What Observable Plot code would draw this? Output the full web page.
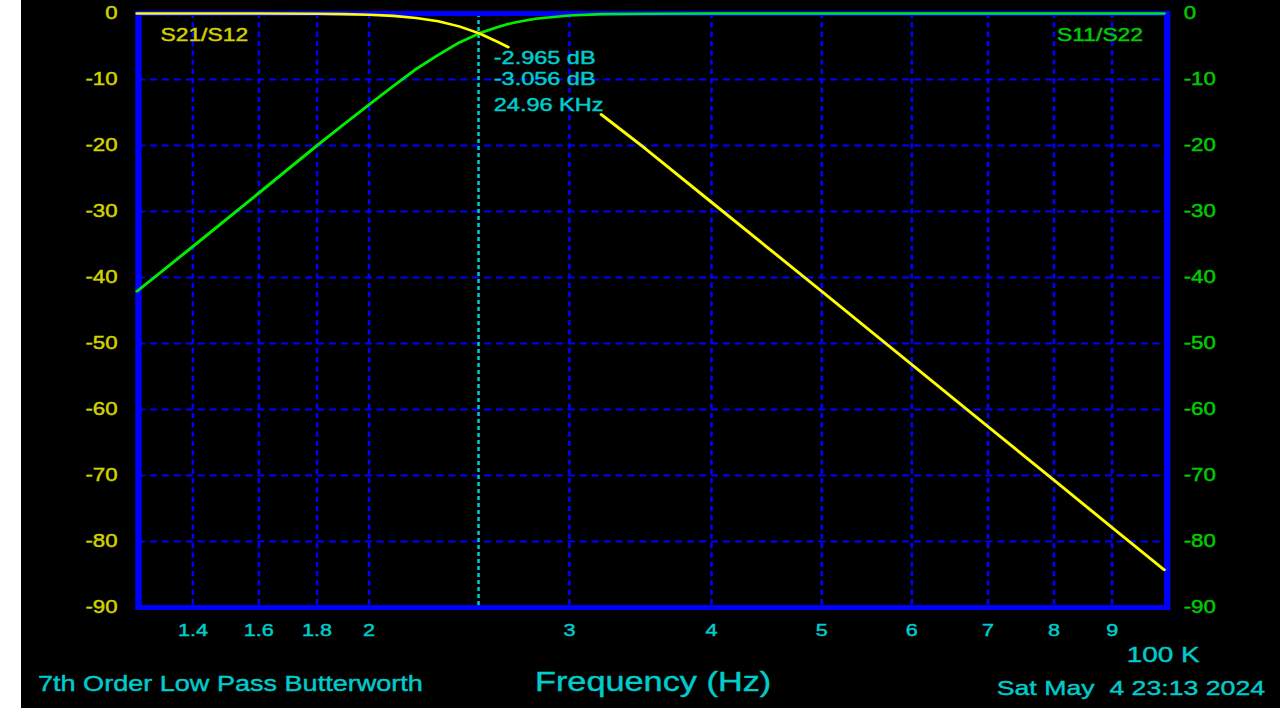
<!DOCTYPE html>
<html><head><meta charset="utf-8">
<script src="https://cdn.jsdelivr.net/npm/d3@7"></script>
<script src="https://cdn.jsdelivr.net/npm/@observablehq/plot@0.6"></script>
<style>
html,body{margin:0;padding:0;background:#fff;width:1280px;height:720px;overflow:hidden;}
#back{position:absolute;left:21px;top:0;width:1259px;height:708px;background:#000;}
#stage{position:absolute;left:21px;top:0;width:991.34px;height:708px;background:#000;transform:scaleX(1.27);transform-origin:0 0;font-family:"Liberation Sans",Arial,sans-serif;}
#stage svg{position:absolute;left:0;top:0;}
.cap{position:absolute;color:#00cccc;white-space:pre;line-height:1;-webkit-text-stroke:0.4px #00cccc;}
</style></head><body>
<div id="back"></div>
<div id="stage"></div>
<script>
// Frequency in units of 10 kHz (axis labels 1.4 ... 9, end = 100 K)
const freq = [1.25, 1.4, 1.6, 1.8, 1.9, 2.0, 2.1, 2.2, 2.3, 2.4, 2.5, 2.6, 2.65, 2.7, 2.8, 3.0, 3.2, 3.5, 4, 5, 6, 7, 8, 9, 10];
// S21/S12 (dB) - null where the trace is hidden behind the marker readout
const s21 = [0, 0, -0.01, -0.04, -0.09, -0.19, -0.36, -0.67, -1.18, -1.95, -3.01, -4.37, -5.09, null, null, null, -15.3, -20.5, -28.6, -42.1, -53.2, -62.6, -70.7, -77.9, -84.3];
// S11/S22 (dB)
const s11 = [-42.1, -35.3, -27.2, -20.0, -16.8, -13.8, -11.0, -8.4, -6.3, -4.4, -3.0, -2.0, -1.6, -1.3, -0.8, -0.3, -0.1, -0.04, 0, 0, 0, 0, 0, 0, 0];
const xTicks = [1.4, 1.6, 1.8, 2, 3, 4, 5, 6, 7, 8, 9];
const yTicks = [0, -10, -20, -30, -40, -50, -60, -70, -80, -90];
const yGrid = [-10, -20, -30, -40, -50, -60, -70, -80];
const cursorFreq = 2.496;
const readouts = ["-2.965 dB", "-3.056 dB", "24.96 KHz"];
const traceLabels = ["S21/S12", "S11/S22"];
const footer = {title: "7th Order Low Pass Butterworth", axis: "Frequency (Hz)", end: "100 K", date: "Sat May  4 23:13 2024"};

const rows = freq.map((f, i) => ({f, s21: s21[i], s11: s11[i]}));

const BLUE = "#0000ff", YEL = "#ffff00", GRN = "#00ee00";
const YTXT = "#d2d200", GTXT = "#00cc00", CYAN = "#00cccc";
const fmt = d => String(d);

const plot = Plot.plot({
  width: 991,
  height: 650,
  marginLeft: 92,
  marginRight: 89,
  marginTop: 13,
  marginBottom: 43,
  style: {background: "black", fontFamily: "'Liberation Sans', Arial, sans-serif", overflow: "visible"},
  x: {type: "log", domain: [1.254, 10.06], axis: null},
  y: {domain: [-90, 0], axis: null},
  marks: [
    Plot.ruleX(xTicks, {stroke: BLUE, strokeWidth: 2, strokeDasharray: "5.3,4"}),
    Plot.ruleY(yGrid, {stroke: BLUE, strokeWidth: 2, strokeDasharray: "5.7,3.7"}),
    Plot.ruleX([cursorFreq], {stroke: "#00c8c8", strokeWidth: 2, strokeDasharray: "4,3"}),
    Plot.frame({stroke: BLUE, strokeWidth: 5}),
    Plot.line(rows, {x: "f", y: "s11", stroke: GRN, strokeWidth: 2.6}),
    Plot.line(rows, {x: "f", y: "s21", stroke: YEL, strokeWidth: 2.6}),
    Plot.axisX({ticks: xTicks, tickFormat: fmt, tickSize: 0, tickPadding: 16, fill: CYAN, fontSize: 17, label: null}),
    Plot.axisY({ticks: yTicks, anchor: "left", tickFormat: fmt, tickSize: 0, tickPadding: 16.5, fill: YTXT, fontSize: 17.5, label: null}),
    Plot.axisY({ticks: yTicks, anchor: "right", tickFormat: fmt, tickSize: 0, tickPadding: 13, fill: GTXT, fontSize: 17.5, label: null}),
    Plot.text([traceLabels[0]], {frameAnchor: "top-left", text: d => d, textAnchor: "start", lineAnchor: "bottom", dx: 17.3, dy: 27.7, fill: YTXT, fontSize: 18}),
    Plot.text([traceLabels[1]], {frameAnchor: "top-right", text: d => d, textAnchor: "end", lineAnchor: "bottom", dx: -19, dy: 27.7, fill: GTXT, fontSize: 18}),
    Plot.text([readouts[0]], {x: () => cursorFreq, y: () => 0, text: d => d, textAnchor: "start", lineAnchor: "bottom", dx: 12, dy: 50, fill: CYAN, fontSize: 18.5}),
    Plot.text([readouts[1]], {x: () => cursorFreq, y: () => 0, text: d => d, textAnchor: "start", lineAnchor: "bottom", dx: 12, dy: 71.5, fill: CYAN, fontSize: 18.5}),
    Plot.text([readouts[2]], {x: () => cursorFreq, y: () => 0, text: d => d, textAnchor: "start", lineAnchor: "bottom", dx: 12, dy: 97, fill: CYAN, fontSize: 18.5})
  ]
});

const stage = document.getElementById("stage");
stage.appendChild(plot);

// slightly heavier glyphs, as in the reference rendering
d3.select(plot).selectAll("text").each(function () {
  const f = getComputedStyle(this).fill;
  this.style.stroke = f;
  this.style.strokeWidth = "0.45px";
});

function cap(text, left, top, size) {
  const d = document.createElement("div");
  d.className = "cap";
  d.textContent = text;
  d.style.left = left + "px";
  d.style.top = top + "px";
  d.style.fontSize = size + "px";
  stage.appendChild(d);
}
cap(footer.title, 13.4, 674, 21.3);
cap(footer.axis, 404.7, 669, 27);
cap(footer.end, 870.6, 643.7, 22);
cap(footer.date, 768.3, 677.2, 21);
</script>
</body></html>
